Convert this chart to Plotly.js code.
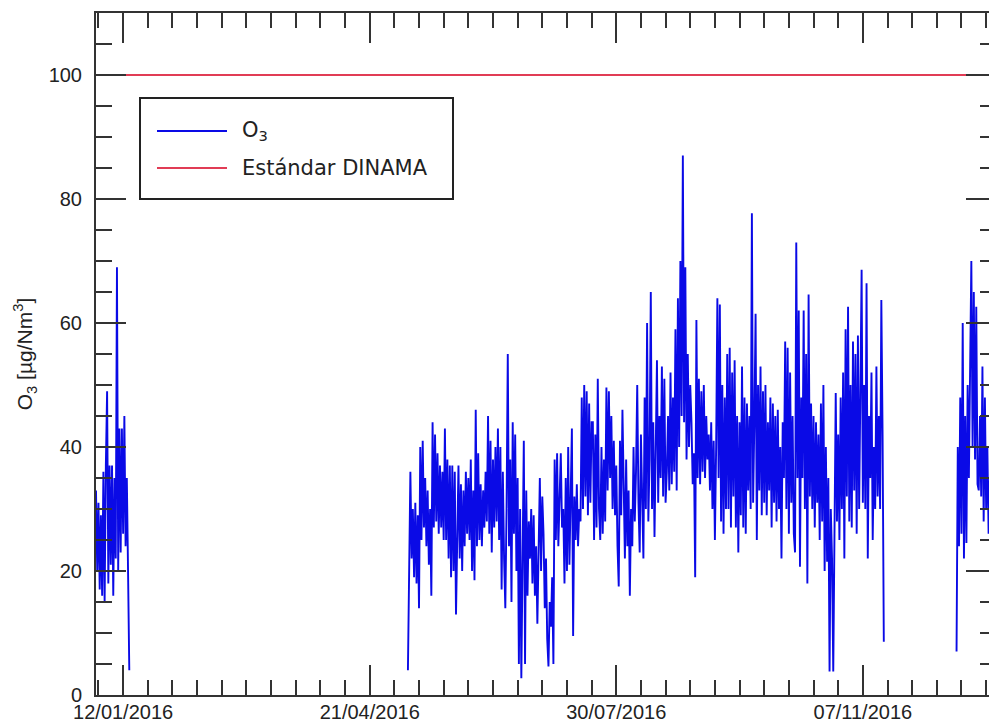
<!DOCTYPE html>
<html><head><meta charset="utf-8">
<script src="https://cdn.plot.ly/plotly-3.0.1.min.js"></script>
<style>html,body{margin:0;padding:0;overflow:hidden;background:#fff}</style>
</head><body><div id="chart" style="width:1000px;height:719px"></div>
<script>
// ---- data ----
const seriesName = 'O<sub>3</sub>';
const standardName = 'Estándar DINAMA';
const standardValue = 100;
const stepHours = 12;
const seg1Start = '2016-01-01T00:00:00Z';
const seg1Values = [33, 20, 31, 17, 29, 16, 36, 15, 37, 49, 18, 37, 21, 37, 16, 35, 22, 69, 20, 43, 23, 43, 26, 45, 24, 35, 20, 4];
const seg2Start = '2016-05-06T12:00:00Z';
const seg2Values = [
 4, 27, 36, 22, 30, 19, 31, 18, 29, 14,
 40, 25, 41, 27, 35, 24, 33, 21, 30, 16,
 44, 27, 42, 28, 39, 26, 37, 27, 36, 25,
 43, 25, 38, 22, 37, 19, 37, 20, 36, 13,
 30, 37, 22, 34, 20, 33, 24, 36, 26, 35,
 25, 38, 20, 33, 18.5, 46, 24, 39, 25, 34,
 24, 33, 27, 36, 28, 45, 26, 41, 23, 38,
 27, 40, 28, 43, 25, 40, 17, 36, 22, 14,
 30, 55, 24, 38, 15, 44, 26, 42, 20, 35,
 5, 30, 2.7, 25, 41, 5, 33, 16, 28, 22,
 30, 18, 29, 16, 24, 11.5, 27, 35, 20, 32,
 26, 14, 22, 9, 4.6, 15, 11, 19, 5, 38,
 25, 39, 24, 32, 39, 27, 30, 18, 35, 20,
 40, 21, 36, 43, 9.5, 32, 25, 34, 24, 30,
 28, 48, 30, 50, 32, 49, 29, 47, 31, 44,
 44, 25, 42, 27, 51, 30, 25, 40, 26, 38,
 28, 49.6, 33, 49, 35, 45, 30, 41, 29, 37,
 24, 17.5, 41, 29, 46, 30, 22, 38, 24, 33,
 16, 30, 24, 40, 28, 36, 50, 31, 23, 42,
 33, 22, 48, 30, 60, 28, 38, 65, 30, 44,
 25.5, 40, 54, 31, 45, 35, 53, 32, 51, 31,
 36, 45, 33, 52, 34, 48, 36, 59, 33, 64,
 40, 70, 45, 87, 44, 69, 38, 55, 40, 50,
 44, 34, 39, 19, 60.5, 35, 51, 34, 49, 36,
 50, 35, 45, 38, 42, 33, 44, 30, 41, 25,
 40, 64, 35, 63, 28, 50, 26, 48, 30, 55,
 30, 56, 27, 52, 32, 54, 27, 45, 23, 44,
 29, 53, 27, 48, 26, 47, 33, 45, 30, 77.7,
 31, 44, 61.5, 25, 50, 33, 53, 29, 49, 31,
 50, 29, 44, 33, 48, 27, 47, 31, 45, 28,
 46, 30, 40, 22, 44, 35, 57, 30, 56, 26,
 52, 31, 45, 26, 23, 73, 35, 62, 20.7, 48,
 35, 62, 30, 55, 18, 64.6, 32, 47, 30, 45,
 27, 44, 31, 42, 25, 47, 28, 50, 20, 40,
 21.5, 35, 3.8, 30, 22, 3.8, 25, 48.7, 28, 42,
 25, 48, 30, 52, 22, 59, 32, 62.6, 28, 50,
 27, 57, 33, 55, 26, 58, 30, 45, 68.6, 31,
 50, 30, 66.4, 22, 45, 35, 52, 25, 40, 30,
 53, 32, 45, 30, 63.7, 42, 8.6
];
const seg3Start = '2016-12-15T00:00:00Z';
const seg3Values = [7, 40, 24, 48, 26, 60, 22, 45, 24.5, 50, 35, 60, 70, 40, 65, 38, 62.6, 34, 33, 45, 32, 53, 28, 48, 30, 40, 26, 35, 20, 30];
const xRange = ['2016-01-01', '2016-12-31'];
const yRange = [0, 110];
const majorTick0 = '2016-01-12';
const DAY = 86400000;

// ---- build ----
function fmt(ms){ return new Date(ms).toISOString().slice(0,16).replace('T',' '); }
function seg(start, vals){
  const t0 = Date.parse(start);
  return { x: vals.map((v,i)=>fmt(t0 + i*stepHours*3600000)), y: vals.slice() };
}
const s1 = seg(seg1Start, seg1Values), s2 = seg(seg2Start, seg2Values), s3 = seg(seg3Start, seg3Values);
const ox = [].concat(s1.x, [null], s2.x, [null], s3.x);
const oy = [].concat(s1.y, [null], s2.y, [null], s3.y);

const blue = 'rgb(10,10,230)', red = 'rgb(225,60,85)';
const traces = [
  {x: ox, y: oy, type:'scatter', mode:'lines', name: seriesName, connectgaps:false,
   line:{color: blue, width:1.9}},
  {x: xRange, y: [standardValue, standardValue], type:'scatter', mode:'lines', name: standardName,
   line:{color: red, width:1.8}}
];

const axCol = '#333';
const tickFont = {family:'Liberation Sans, Arial, sans-serif', size:20, color:'#222'};
const px = v => (v-96)/900, py = v => (695-v)/682;
const legFont = {family:'DejaVu Sans, sans-serif', size:21, color:'#222'};
const layout = {
  width:1000, height:719,
  margin:{l:96, r:4, t:13, b:24},
  paper_bgcolor:'#fff', plot_bgcolor:'#fff',
  showlegend:false,
  xaxis:{type:'date', range:xRange, showgrid:false, zeroline:false,
    showline:true, linecolor:axCol, linewidth:2, mirror:'ticks',
    ticks:'inside', ticklen:30, tickwidth:2, tickcolor:axCol,
    tickmode:'linear', tick0:majorTick0, dtick:100*DAY, tickformat:'%d/%m/%Y',
    tickfont:tickFont, ticklabelstandoff:-2,
    minor:{ticks:'inside', ticklen:15, tickwidth:2, tickcolor:axCol, tick0:majorTick0, dtick:10*DAY, showgrid:false}},
  yaxis:{range:yRange, showgrid:false, zeroline:false,
    showline:true, linecolor:axCol, linewidth:2, mirror:'ticks',
    ticks:'inside', ticklen:30, tickwidth:2, tickcolor:axCol,
    tickmode:'linear', tick0:0, dtick:20, tickfont:tickFont, ticklabelstandoff:8,
    minor:{ticks:'inside', ticklen:16, tickwidth:2, tickcolor:axCol, dtick:5, showgrid:false},
    title:{text:'O<sub>3</sub> [µg/Nm<sup>3</sup>]', standoff:10,
      font:{family:'Liberation Sans, Arial, sans-serif', size:21, color:'#222'}}},
  shapes:[
    {type:'rect', xref:'paper', yref:'paper', x0:px(140), x1:px(453), y0:py(199), y1:py(98),
     line:{color:'#222', width:2}, fillcolor:'#fff', layer:'above'},
    {type:'line', xref:'paper', yref:'paper', x0:px(157), x1:px(227), y0:py(131), y1:py(131), line:{color:blue, width:1.8}, layer:'above'},
    {type:'line', xref:'paper', yref:'paper', x0:px(157), x1:px(227), y0:py(168), y1:py(168), line:{color:red, width:1.8}, layer:'above'}
  ],
  annotations:[
    {xref:'paper', yref:'paper', x:px(240), y:py(131), xanchor:'left', yanchor:'middle', showarrow:false, text:seriesName, font:legFont},
    {xref:'paper', yref:'paper', x:px(240), y:py(168), xanchor:'left', yanchor:'middle', showarrow:false, text:standardName, font:legFont}
  ]
};
Plotly.newPlot('chart', traces, layout, {displayModeBar:false, staticPlot:true});
</script></body></html>
